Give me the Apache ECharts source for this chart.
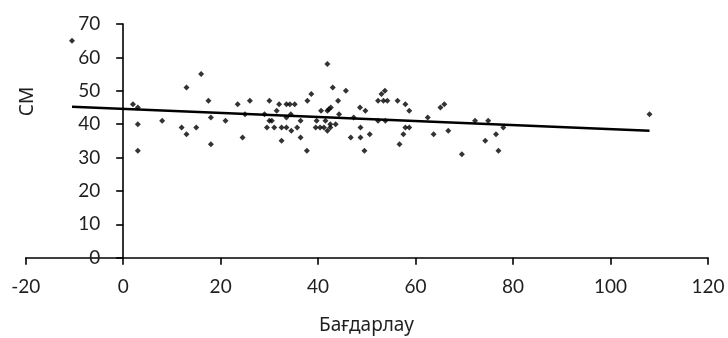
<!DOCTYPE html>
<html>
<head>
<meta charset="utf-8">
<script src="https://cdn.jsdelivr.net/npm/echarts@6/dist/echarts.min.js"></script>
<style>
  html, body { margin: 0; padding: 0; background: #fff; }
  #chart { width: 728px; height: 338px; }
</style>
</head>
<body>
<div id="chart"></div>
<script>
// Observations: orientation score (Бағдарлау) against СМ
const orientation = [
  -10.5, 2, 3, 3, 3, 8, 12, 13, 13, 15,
  16, 17.5, 18, 18, 21, 23.5, 24.5, 25, 26, 29,
  29.5, 30, 30, 30.5, 31, 31.5, 32, 32.5, 32.5, 33.5,
  33.5, 33.5, 34.2, 35.2, 34.4, 34.5, 35.7, 36.4, 36.4, 37.7,
  37.8, 38.6, 39.5, 39.7, 40.4, 40.6, 41.2, 41.5, 41.9, 42.2,
  42.6, 41.9, 41.9, 42.5, 42.5, 43, 43.6, 44.1, 44.3, 45.7,
  46.7, 47.3, 48.6, 48.7, 48.7, 49.5, 49.7, 50.6, 52.3, 53.4,
  54.2, 53, 53.7, 52.3, 53.8, 56.3, 56.7, 57.5, 57.9, 57.9,
  58.7, 58.7, 62.5, 63.7, 65.1, 65.9, 66.7, 69.5, 72.2, 74.3,
  74.9, 76.5, 77, 78, 108
];
const cmScore = [
  65, 46, 45, 40, 32, 41, 39, 37, 51, 39,
  55, 47, 42, 34, 41, 46, 36, 43, 47, 43,
  39, 47, 41, 41, 39, 44, 46, 35, 39, 39,
  42, 46, 46, 46, 43, 38, 39, 41, 36, 32,
  47, 49, 39, 41, 39, 44, 39, 41, 44, 44.5,
  45, 58, 38, 39, 40, 51, 40, 47, 43, 50,
  36, 42, 45, 39, 36, 32, 44, 37, 47, 47,
  47, 49, 50, 41, 41, 47, 34, 37, 46, 39,
  39, 44, 42, 37, 45, 46, 38, 31, 41, 35,
  41, 37, 32, 39, 43
];

// Linear trend line, given by its two end points
const trendX = [-10.5, 108];
const trendY = [45.2, 38.0];

// Axis ranges and ticks
const xTicks = { min: -20, max: 120, step: 20 };
const yTicks = { min: 0, max: 70, step: 10 };

const xTitle = 'Бағдарлау';
const yTitle = 'СМ';

const points = orientation.map((x, i) => [x, cmScore[i]]);
const trend = trendX.map((x, i) => [x, trendY[i]]);

const FONT = 'Lato, "Noto Sans", sans-serif';
const TITLE_FONT = '"Noto Sans", "Open Sans", sans-serif';
const LABEL_COLOR = '#1f1f1f';

const GRID = { left: 25.7, right: 20, top: 24, bottom: 80.3 };
const CHART_W = 728;

const chart = echarts.init(document.getElementById('chart'), null, { renderer: 'canvas' });

const lineStyle = { color: '#000', width: 1.6 };
const labelStyle = { color: LABEL_COLOR, fontFamily: FONT, fontSize: 19 };

// distance in px from the grid's left edge to x = 0, where the vertical axis sits
const plotW = CHART_W - GRID.left - GRID.right;
const zeroOffset = plotW * (0 - xTicks.min) / (xTicks.max - xTicks.min);

chart.setOption({
  animation: false,
  backgroundColor: '#fff',
  grid: Object.assign({ containLabel: false, outerBoundsMode: 'none' }, GRID),
  xAxis: {
    type: 'value',
    min: xTicks.min, max: xTicks.max, interval: xTicks.step,
    splitLine: { show: false },
    // the y range starts at 0, so the bottom edge is already the zero line
    axisLine: { show: true, onZero: false, lineStyle: lineStyle },
    axisTick: { show: true, inside: false, length: 7, lineStyle: lineStyle },
    axisLabel: Object.assign({}, labelStyle, { margin: 20 })
  },
  yAxis: {
    type: 'value',
    min: yTicks.min, max: yTicks.max, interval: yTicks.step,
    splitLine: { show: false },
    // vertical axis crosses the horizontal one at x = 0
    axisLine: { show: true, onZero: true, onZeroAxisIndex: 0, lineStyle: lineStyle },
    axisTick: { show: true, inside: false, length: 7, lineStyle: lineStyle },
    axisLabel: Object.assign({}, labelStyle, { margin: 23 - zeroOffset })
  },
  graphic: [
    {
      type: 'text',
      x: 27.5, y: 101.5,
      rotation: Math.PI / 2,
      style: {
        text: yTitle, fill: LABEL_COLOR, font: '19px ' + TITLE_FONT,
        textAlign: 'center', textVerticalAlign: 'middle'
      }
    },
    {
      type: 'text',
      x: 366.5, y: 326,
      style: {
        text: xTitle, fill: LABEL_COLOR, font: '19px ' + TITLE_FONT,
        textAlign: 'center', textVerticalAlign: 'middle'
      }
    }
  ],
  series: [
    {
      type: 'scatter',
      data: points,
      symbol: 'diamond',
      symbolSize: 6,
      itemStyle: { color: '#000' },
      z: 3
    },
    {
      type: 'line',
      data: trend,
      showSymbol: false,
      lineStyle: { color: '#000', width: 2.5 },
      z: 2
    }
  ]
});
</script>
</body>
</html>
